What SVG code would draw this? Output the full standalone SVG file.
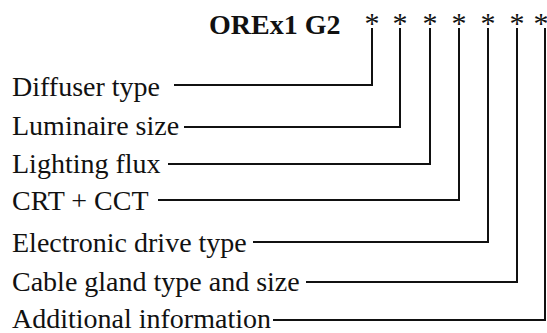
<svg xmlns="http://www.w3.org/2000/svg" width="547" height="333" viewBox="0 0 547 333">
<style>
text{font-family:"Liberation Serif","Times New Roman",serif;fill:#111}
.lbl{font-size:28px}
.ttl{font-size:28px;font-weight:bold}
.ast{font-size:30px;text-anchor:middle}
.conn path{fill:none;stroke:#111;stroke-width:2}
</style>
<rect width="547" height="333" fill="#fff"/>
<g id="title">
<text class="ttl" x="209" y="34">OREx1 G2</text>
<text class="ast" x="372" y="33">*</text>
<text class="ast" x="400" y="33">*</text>
<text class="ast" x="430" y="33">*</text>
<text class="ast" x="459" y="33">*</text>
<text class="ast" x="488" y="33">*</text>
<text class="ast" x="517" y="33">*</text>
<text class="ast" x="541" y="33">*</text>
</g>
<g id="n1"><text class="lbl" x="12" y="96">Diffuser type</text></g>
<g id="n2"><text class="lbl" x="12" y="135">Luminaire size</text></g>
<g id="n3"><text class="lbl" x="12" y="173">Lighting flux</text></g>
<g id="n4"><text class="lbl" x="12" y="210">CRT + CCT</text></g>
<g id="n5"><text class="lbl" x="12" y="252">Electronic drive type</text></g>
<g id="n6"><text class="lbl" x="12" y="291">Cable gland type and size</text></g>
<g id="n7"><text class="lbl" x="12" y="328">Additional information</text></g>
<g class="conn" id="connectors">
<path d="M174 85H372V28"/>
<path d="M184 127H400V28"/>
<path d="M168 164H430V28"/>
<path d="M158 200H459V28"/>
<path d="M253 242H488V28"/>
<path d="M306 282H517V28"/>
<path d="M273 320H545V28"/>
</g>
</svg>
